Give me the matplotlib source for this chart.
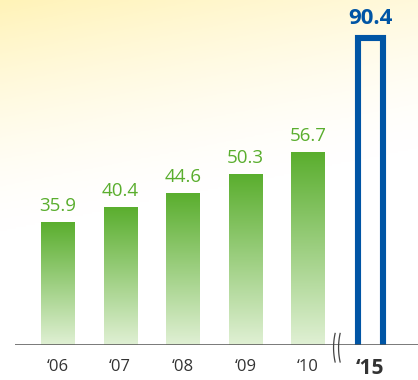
import numpy as np
import matplotlib.pyplot as plt
from matplotlib.colors import LinearSegmentedColormap

years = ["\u201806", "\u201807", "\u201808", "\u201809", "\u201810"]
values = [35.9, 40.4, 44.6, 50.3, 56.7]
target_year = "\u201815"
target_value = 90.4

W, H = 418, 380
fig = plt.figure(figsize=(W / 100, H / 100), dpi=100)

# background glow, yellow in the top-left corner
bg = fig.add_axes([0, 0, 1, 1])
yy, xx = np.mgrid[0:1:200j, 0:1:220j]
d = np.clip(1 - (yy * 1.6 + xx * 0.35), 0, 1) ** 1.6
bg_cmap = LinearSegmentedColormap.from_list("bg", ["#ffffff", "#fff3b8"])
bg.imshow(d, cmap=bg_cmap, aspect="auto", extent=[0, 1, 0, 1], origin="upper", vmin=0, vmax=1)
bg.set_axis_off()

ax = fig.add_axes([15 / W, 35 / H, 1 - 15 / W, 1 - 35 / H])
ax.patch.set_alpha(0)
ax.set_xlim(-0.679, 5.759)
ax.set_ylim(0, 101.5)

green = LinearSegmentedColormap.from_list("g", ["#e0f0d4", "#5aae2e"])
grad = np.linspace(0, 1, 256).reshape(-1, 1)
w = 0.53
xs = np.arange(len(values))
for x, v in zip(xs, values):
    ax.imshow(grad, cmap=green, aspect="auto", origin="lower",
              extent=[x - w / 2, x + w / 2, 0, v], zorder=2)
    ax.text(x, v + 2.2, f"{v:.1f}", ha="center", va="bottom", color="#5aae2e",
            fontsize=13.5, family="Open Sans")

# 2015 target as an open bar
tx = len(values)
tw = 0.40
ax.plot([tx - tw / 2, tx - tw / 2, tx + tw / 2, tx + tw / 2], [0, target_value, target_value, 0],
        color="#0055a5", lw=4.4, solid_joinstyle="miter", zorder=3)
ax.text(tx, target_value + 2.6, f"{target_value:.1f}", ha="center", va="bottom", color="#0055a5",
        fontsize=16, fontweight="bold", family="Open Sans")

ax.axhline(0, color="#555555", lw=1.1, zorder=4)

# axis break marks
t = np.linspace(-1, 1, 30)
for bx in (4.41, 4.49):
    ax.plot(bx + 0.025 * t ** 2, 4.2 * t - 0.8, color="#444444", lw=0.9, clip_on=False, zorder=5)

for x, lab in zip(xs, years):
    ax.text(x, -4.2, lab, ha="center", va="top", color="#333333", fontsize=12, family="Open Sans")
ax.text(tx, -3.8, target_year, ha="center", va="top", color="#333333", fontsize=15,
        fontweight="bold", family="Open Sans")

ax.set_axis_off()
fig.savefig("out.png", dpi=100)
